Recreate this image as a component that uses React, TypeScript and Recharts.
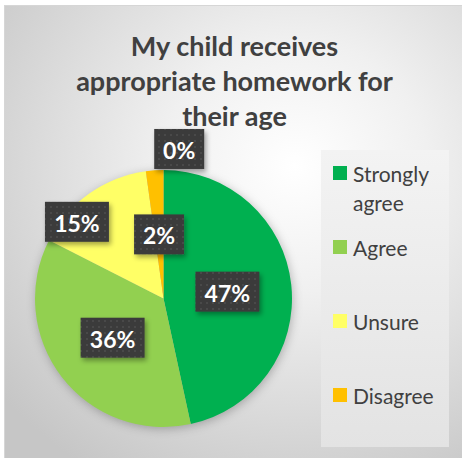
import React from 'react';
import { PieChart, Pie, Cell, Legend } from 'recharts';

// survey answers
const categories = ['Strongly agree', 'Agree', 'Unsure', 'Disagree', 'Strongly disagree'];
const shares = [46.6, 35.9, 15.3, 2.2, 0];
const sliceColors = ['#00B050', '#92D050', '#FFFF66', '#FFC000', '#C00000'];

const title = ['My child receives', 'appropriate homework for', 'their age'];

const rows = categories.map((category, i) => ({ category, share: shares[i] }));

const RAD = Math.PI / 180;
const FONT = 'Lato, "Open Sans", sans-serif';

// excel "best fit" moved a couple of labels off the default spot
const labelPlacement: Record<number, { r: number; turn: number }> = {
  2: { r: 0.9, turn: 13 },
  4: { r: 1.17, turn: -6 },
};

const renderLabel = (props: any) => {
  const { cx, cy, midAngle, outerRadius, percent, index } = props;
  const place = labelPlacement[index] ?? { r: 0.5, turn: 0 };
  const a = (midAngle + place.turn) * RAD;
  const x = cx + outerRadius * place.r * Math.cos(a);
  const y = cy - outerRadius * place.r * Math.sin(a);
  const text = `${Math.round(percent * 100)}%`;
  const w = text.length > 2 ? 64 : 50;
  const h = 40;
  return (
    <g key={`lbl-${index}`}>
      <rect x={x - w / 2} y={y - h / 2} width={w} height={h} fill="url(#dots)" filter="url(#boxShadow)" />
      <text
        x={x}
        y={y + 1}
        textAnchor="middle"
        dominantBaseline="central"
        fill="#ffffff"
        fontSize={23}
        fontWeight={700}
        fontFamily={FONT}
      >
        {text}
      </text>
    </g>
  );
};

// keep the sheet order, not the alphabetical one; the last entry does not fit the box (as in excel)
const LegendBox = ({ payload }: any) => {
  const items = [...(payload || [])].sort(
    (a: any, b: any) => categories.indexOf(a.value) - categories.indexOf(b.value)
  );
  return (
    <div
      style={{
        width: 128,
        height: 297,
        overflow: 'hidden',
        background: 'linear-gradient(180deg, #f3f3f3 0%, #e3e3e3 100%)',
        position: 'relative',
      }}
    >
      {items.map((item: any, i: number) =>
        8.5 + i * 74 + 29 > 297 ? null : (
          <div
            key={item.value}
            style={{
              position: 'absolute',
              left: 12,
              top: 8.5 + i * 74,
              display: 'flex',
              alignItems: 'flex-start',
            }}
          >
            <span style={{ width: 14, height: 14, background: item.color, marginTop: 7.5, flex: 'none' }} />
            <span
              style={{
                marginLeft: 6,
                width: 92,
                fontFamily: FONT,
                fontSize: 21,
                lineHeight: '29px',
                color: '#404040',
              }}
            >
              {item.value}
            </span>
          </div>
        )
      )}
    </div>
  );
};

export default function App() {
  return (
    <div style={{ position: 'absolute', left: 0, top: 0, width: 462, height: 458, overflow: 'hidden', background: '#fff' }}>
      <svg width={0} height={0} style={{ position: 'absolute' }}>
        <defs>
          <pattern id="dots" width={6} height={6} patternUnits="userSpaceOnUse">
            <rect width={6} height={6} fill="#3b3b3b" />
            <circle cx={3} cy={3} r={0.9} fill="#4f4f4f" />
          </pattern>
          <filter id="boxShadow" x="-30%" y="-30%" width="160%" height="170%">
            <feDropShadow dx={2} dy={3} stdDeviation={2.5} floodColor="#000" floodOpacity={0.35} />
          </filter>
        </defs>
      </svg>
      <style>{`.recharts-pie { filter: drop-shadow(1px 2px 5px rgba(0,0,0,0.25)); }`}</style>
      <div
        style={{
          position: 'absolute',
          left: 4,
          top: 5,
          width: 470,
          height: 470,
          borderLeft: '1px solid #d6d6d6',
          borderTop: '1px solid #d6d6d6',
          background: 'radial-gradient(ellipse 380px 360px at 290px 160px, #ffffff 0%, #f0f0f0 35%, #c6c6c6 100%)',
        }}
      />
      <div
        style={{
          position: 'absolute',
          left: 0,
          top: 27.5,
          width: 469,
          textAlign: 'center',
          fontFamily: FONT,
          fontWeight: 700,
          fontSize: 27,
          lineHeight: '35px',
          color: '#404040',
        }}
      >
        {title.map((t) => (
          <div key={t}>{t}</div>
        ))}
      </div>
      <div style={{ position: 'absolute', left: 0, top: 0 }}>
        <PieChart width={462} height={458} margin={{ top: 0, right: 0, bottom: 0, left: 0 }}>
          <Pie
            data={rows}
            dataKey="share"
            nameKey="category"
            cx={163.5}
            cy={298.5}
            outerRadius={128.5}
            startAngle={90}
            endAngle={-270}
            stroke="none"
            label={renderLabel}
            labelLine={false}
            isAnimationActive={false}
          >
            {rows.map((r, i) => (
              <Cell key={r.category} fill={sliceColors[i]} />
            ))}
          </Pie>
          <Legend
            layout="vertical"
            align="right"
            verticalAlign="top"
            content={<LegendBox />}
            wrapperStyle={{ left: 321, top: 150, right: 'auto', width: 128, height: 297 }}
          />
        </PieChart>
      </div>
    </div>
  );
}
